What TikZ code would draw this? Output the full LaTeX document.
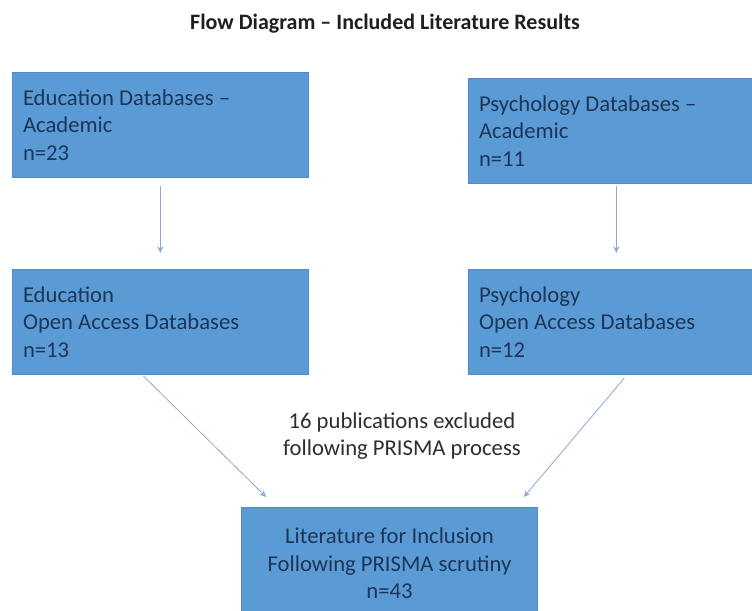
\documentclass[tikz,border=0pt]{standalone}
\usepackage{fontspec}
\setmainfont{Carlito}
\usetikzlibrary{
  calc,
  arrows.meta
}

\definecolor{boxblue}{HTML}{5B9BD5}
\definecolor{boxedge}{HTML}{4F8BC6}
\definecolor{boxtext}{HTML}{1D3557}
\definecolor{flowblue}{HTML}{8EA9D6}
\definecolor{notegray}{HTML}{2E2E2E}

\tikzset{
  dbbox/.style={draw=boxedge, line width=0.5pt, fill=boxblue, text=boxtext,
    align=flush left, text width=206pt, inner xsep=8pt, inner ysep=0pt,
    minimum height=79pt, font=\fontsize{17}{20.5}\selectfont},
  flow/.style={draw=flowblue, line width=0.6pt, -{Stealth[length=5pt,width=4.5pt]}}
}

\begin{document}
\begin{tikzpicture}[x=0.75pt,y=-0.75pt]
	\clip (0,0) rectangle (752,610);
	\fill[white] (0,0) rectangle (752,610);
	\node[font=\bfseries\fontsize{16.5}{20}\selectfont, text=black!88] (title) at (385,24) {Flow Diagram -- Included Literature Results};
	% database boxes
	\node[dbbox, anchor=north west] (edu) at (12,72) {Education Databases --\\Academic\\n=23};
	\node[dbbox, anchor=north west] (psy) at (468,78) {Psychology Databases --\\Academic\\n=11};
	\node[dbbox, anchor=north west] (eduopen) at (12,269) {Education\\Open Access Databases\\n=13};
	\node[dbbox, anchor=north west] (psyopen) at (468,269) {Psychology\\Open Access Databases\\n=12};
	\node[dbbox, align=flush center, minimum height=84pt, anchor=north] (incl) at (389.5,507) {Literature for Inclusion\\Following PRISMA scrutiny\\n=43};
	\node[align=center, text=notegray, font=\fontsize{17}{20.5}\selectfont] (note) at (402,436) {16 publications excluded\\following PRISMA process};
	% arrows
	\draw[flow] ($(edu.south)+(0,8)$) -- ($(eduopen.north)+(0,-16)$);
	\draw[flow] ($(psy.south)+(0,2)$) -- ($(psyopen.north)+(0,-16)$);
	\draw[flow] ($(eduopen.south)+(-17,1)$) -- ($(incl.north west)+(25,-10)$);
	\draw[flow] ($(psyopen.south)+(8,3)$) -- ($(incl.north east)+(-14,-10)$);
\end{tikzpicture}
\end{document}
